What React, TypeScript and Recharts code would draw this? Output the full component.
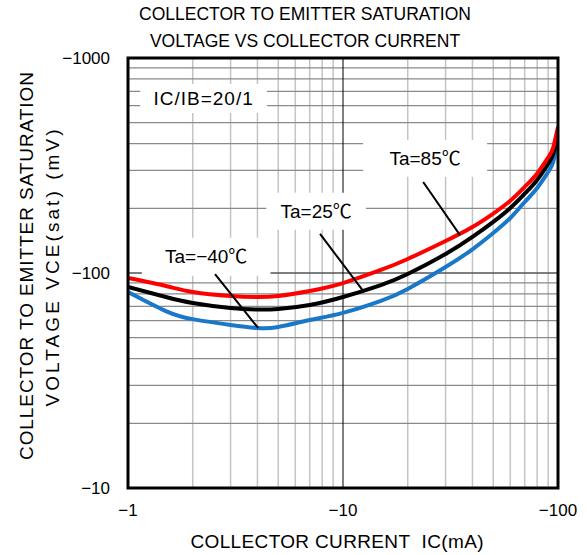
import { LineChart, Line, XAxis, YAxis, ReferenceLine, ReferenceArea } from 'recharts'

// collector current IC (mA, shown as negative)
export const currentMA = [1, 1.5, 2, 3, 4, 5, 7, 10, 15, 20, 30, 40, 50, 60, 70, 80, 90, 95, 100]

// VCE(sat) magnitude in mV for each temperature
export const vceTa85 = [94.8, 87, 81.6, 78.2, 77.3, 78.2, 82.5, 89.8, 103.3, 116.2, 140.9, 163.7, 189, 216.9, 251.5, 290.3, 344.5, 383.5, 477.6]
export const vceTa25 = [86.1, 77.3, 72.5, 68.7, 67.6, 68, 71, 77.3, 87.9, 98.9, 122.5, 147.1, 172.9, 200.6, 233.8, 271, 321.4, 357.7, 438.5]
export const vceTaM40 = [81.6, 66.5, 61, 57.3, 55.5, 56.1, 60.4, 65.2, 74.1, 84.3, 106.6, 128.9, 153.5, 180.2, 213.9, 248.5, 295, 328.4, 415.6]

export const xTicks = [1, 10, 100]
export const yTicks = [10, 100, 1000]
export const xMinor = [2, 3, 4, 5, 6, 7, 8, 9, 20, 30, 40, 50, 60, 70, 80, 90]
export const yMinor = [20, 30, 40, 50, 60, 70, 80, 90, 200, 300, 400, 500, 600, 700, 800, 900]

const chartData = currentMA.map((ic, i) => ({
    ic,
    t85: vceTa85[i],
    t25: vceTa25[i],
    tm40: vceTaM40[i],
}))

const neg = (v: number) => `\u2212${v}`

const annoLabel = (text: string) => ({
    value: text,
    position: 'center' as const,
    fill: '#000',
    fontSize: 19,
})

export default function App() {
    return (
        <div
            style={{
                position: 'absolute',
                left: 0,
                top: 0,
                width: 587,
                height: 555,
                background: '#fff',
                fontFamily: "'Liberation Sans', Arial, 'Noto Sans CJK JP', sans-serif",
            }}
        >
            <LineChart width={587} height={555} data={chartData} margin={{ top: 58, right: 29, bottom: 0, left: 0 }}>
                <XAxis
                    dataKey='ic'
                    type='number'
                    scale='log'
                    domain={[1, 100]}
                    ticks={xTicks}
                    tickFormatter={neg}
                    allowDataOverflow
                    axisLine={false}
                    tickLine={false}
                    tickSize={0}
                    tickMargin={16}
                    height={67}
                    tick={{ fill: '#000', fontSize: 17 }}
                />
                <YAxis
                    type='number'
                    scale='log'
                    domain={[10, 1000]}
                    ticks={yTicks}
                    tickFormatter={neg}
                    allowDataOverflow
                    axisLine={false}
                    tickLine={false}
                    tickSize={0}
                    tickMargin={18}
                    width={128}
                    tick={{ fill: '#000', fontSize: 17 }}
                />

                {/* log grid */}
                {xMinor.map((v) => (
                    <ReferenceLine key={`gx-${v}`} x={v} stroke='#c4c4c4' strokeWidth={1.5} zIndex={50} />
                ))}
                {yMinor.map((v) => (
                    <ReferenceLine key={`gy-${v}`} y={v} stroke='#8a8a8a' strokeWidth={1.3} zIndex={50} />
                ))}
                <ReferenceLine y={100} stroke='#555' strokeWidth={1.5} zIndex={51} />
                <ReferenceLine x={10} stroke='#000' strokeWidth={1} zIndex={51} />

                {/* white label boxes */}
                <ReferenceArea x1={1.14} x2={4.43} y1={555} y2={757} fill='#fff' fillOpacity={1} stroke='none' zIndex={100} label={{ ...annoLabel('IC/IB=20/1'), letterSpacing: 1 }} />
                <ReferenceArea x1={12.4} x2={46.8} y1={280} y2={416} fill='#fff' fillOpacity={1} stroke='none' zIndex={100} label={annoLabel('Ta=85\u2103')} />
                <ReferenceArea x1={4.4} x2={12.8} y1={159} y2={236} fill='#fff' fillOpacity={1} stroke='none' zIndex={100} label={annoLabel('Ta=25\u2103')} />
                <ReferenceArea x1={1.16} x2={4.6} y1={97} y2={146} fill='#fff' fillOpacity={1} stroke='none' zIndex={100} label={annoLabel('Ta=\u221240\u2103')} />

                <Line dataKey='tm40' type='natural' stroke='#1a78c8' strokeWidth={4} dot={false} isAnimationActive={false} />
                <Line dataKey='t25' type='natural' stroke='#000' strokeWidth={4} dot={false} isAnimationActive={false} />
                <Line dataKey='t85' type='natural' stroke='#ff0000' strokeWidth={4} dot={false} isAnimationActive={false} />

                {/* leader lines */}
                <ReferenceLine segment={[{ x: 23.6, y: 265 }, { x: 35, y: 150 }]} stroke='#000' strokeWidth={2} zIndex={450} />
                <ReferenceLine segment={[{ x: 7.82, y: 152 }, { x: 12.3, y: 83.4 }]} stroke='#000' strokeWidth={2} zIndex={450} />
                <ReferenceLine segment={[{ x: 2.54, y: 98.9 }, { x: 4.03, y: 55.5 }]} stroke='#000' strokeWidth={2} zIndex={450} />

                {/* plot frame */}
                <ReferenceArea x1={1} x2={100} y1={10} y2={1000} fill='none' stroke='#000' strokeWidth={3} zIndex={500} />
            </LineChart>

            <svg width={587} height={555} style={{ position: 'absolute', left: 0, top: 0, pointerEvents: 'none' }}>
                <text x={305} y={20} textAnchor='middle' fontSize={17.5} fill='#000'>
                    COLLECTOR TO EMITTER SATURATION
                </text>
                <text x={305} y={47} textAnchor='middle' fontSize={17.5} fill='#000'>
                    VOLTAGE VS COLLECTOR CURRENT
                </text>
                <text x={337} y={548} textAnchor='middle' fontSize={19} fill='#000' textLength={293} lengthAdjust='spacing'>
                    {'COLLECTOR CURRENT\u00a0\u00a0IC(mA)'}
                </text>
                <text x={33} y={266} textAnchor='middle' fontSize={19} fill='#000' textLength={388} lengthAdjust='spacing' transform='rotate(-90 33 266)'>
                    COLLECTOR TO EMITTER SATURATION
                </text>
                <text x={59} y={268} textAnchor='middle' fontSize={19} fill='#000' textLength={277} lengthAdjust='spacing' transform='rotate(-90 59 268)'>
                    {'VOLTAGE VCE(sat)\u00a0(mV)'}
                </text>
            </svg>
        </div>
    )
}
